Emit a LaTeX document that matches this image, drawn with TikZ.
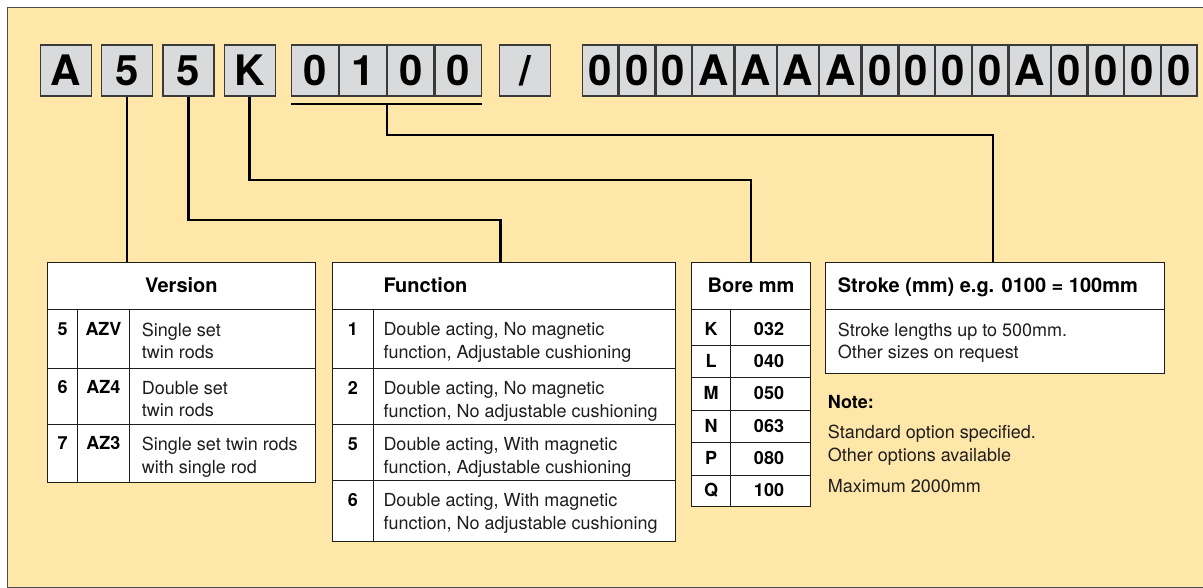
\documentclass[tikz,border=0pt]{standalone}
\usepackage{fontspec}
\setmainfont{TeX Gyre Heros}
\usetikzlibrary{positioning}
\definecolor{sandbg}{HTML}{FFE6A9}
\definecolor{cellgray}{HTML}{D9DADC}
\definecolor{cellline}{HTML}{3A3A3A}
\definecolor{inkx}{HTML}{1E1E1E}
\tikzset{
  cell/.style={draw=cellline,line width=1.2pt,fill=cellgray,inner sep=0pt,minimum height=51pt,text height=30pt,text depth=0pt,font=\fontsize{42}{42}\selectfont\bfseries},
  tab/.style={draw=inkx,line width=1pt,fill=white,inner sep=0pt},
  rule/.style={draw=inkx,line width=1pt},
  link/.style={draw=black,line width=2.3pt},
  hd/.style={inner sep=0pt,anchor=base,font=\fontsize{20}{24}\selectfont\bfseries},
  key/.style={inner sep=0pt,anchor=base,font=\fontsize{18}{22.7}\selectfont\bfseries},
  txt/.style={inner sep=0pt,align=left,anchor=north west,font=\fontsize{18}{22.7}\selectfont,text=inkx}
}
\begin{document}
\begin{tikzpicture}[x=1pt,y=-1pt]
\useasboundingbox (0,0) rectangle (1203,588);
\clip (0,0) rectangle (1203,588);
\fill[white] (0,0) rectangle (1203,588);
\draw[fill=sandbg,draw=gray!60!black,line width=1pt] (7,8) rectangle (1215,587.5);

% order code
\node[cell,minimum width=51pt] (cA) at (66,70.5) {A};
\node[cell,minimum width=51pt,right=9pt of cA] (c5a) {5};
\node[cell,minimum width=51pt,right=9pt of c5a] (c5b) {5};
\node[cell,minimum width=51pt,right=9pt of c5b] (cK) {K};
\node[inner sep=0pt,minimum size=0pt] (s0) at (291,70.5) {};
\foreach \ch [count=\i, remember=\i as \j (initially 0)] in {0,1,0,0}
  \node[cell,minimum width=46.6pt,anchor=west] (s\i) at (s\j.east) {\ch};
\node[cell,minimum width=51.4pt] (cSl) at (525,70.5) {/};
\node[inner sep=0pt,minimum size=0pt] (l0) at (581.7,70.5) {};
\foreach \ch/\w [count=\i, remember=\i as \j (initially 0)] in
  {0/35.5,0/35.5,0/35.5,A/41.2,A/41.2,A/41.2,A/41.2,0/35.5,0/35.5,0/35.5,0/35.5,A/41.2,0/35.5,0/35.5,0/35.5,0/35.5}
  \node[cell,minimum width=\w pt,anchor=west] (l\i) at (l\j.east) {\ch};
\draw[link] ([yshift=-7.3pt]s1.south west) -- ([yshift=-7.3pt]s4.south east);
\coordinate (ul) at ([yshift=-7.3pt]s2.south east);

% tables
\node[tab,minimum width=267.8pt,minimum height=220pt] (version) at (181.4,372.7) {};
\node[tab,minimum width=342.3pt,minimum height=278.3pt] (function) at (503.85,401.85) {};
\node[tab,minimum width=118.6pt,minimum height=244pt] (bore) at (751,384.7) {};
\node[tab,minimum width=339pt,minimum height=110.6pt] (stroke) at (995.2,318) {};

% connectors
\coordinate (fb) at (500.5,220);
\coordinate (kb) at (751,180);
\coordinate (sb) at (992.7,135);
\draw[link] (c5a.south) -- (c5a.south |- version.north);
\draw[link] (c5b.south) |- (fb) -- (fb |- function.north);
\draw[link] (cK.south) |- (kb) -- (bore.north);
\draw[link] (ul) |- (sb) -- (sb |- stroke.north);

% version
\draw[rule] (47.5,310) -- (315.3,310) (47.5,368.3) -- (315.3,368.3) (47.5,424.3) -- (315.3,424.3)
  (77.7,310) -- (77.7,482.7) (129.3,310) -- (129.3,482.7);
\node[hd] (vhd) at (181.4,292.2) {Version};
\foreach \yy/\nn/\cc/\dd [count=\i] in {310/5/AZV/{Single set\\twin rods},
    368.3/6/AZ4/{Double set\\twin rods}, 424.3/7/AZ3/{Single set twin rods\\with single rod}} {
  \node[key] (vn\i) at (62.6,\yy+25.5) {\nn};
  \node[key] (vc\i) at (103.5,\yy+25.5) {\cc};
  \node[txt] (vd\i) at (141.7,\yy+12.4) {\dd};
}

% function
\draw[rule] (332.7,310) -- (675,310) (332.7,368.7) -- (675,368.7) (332.7,424.7) -- (675,424.7)
  (332.7,480.7) -- (675,480.7) (373.3,310) -- (373.3,541);
\node[hd,anchor=base west] (fhd) at (383.3,292.2) {Function};
\foreach \yy/\nn/\dd [count=\i] in {310/1/{Double acting, No magnetic\\function, Adjustable cushioning},
    368.7/2/{Double acting, No magnetic\\function, No adjustable cushioning},
    424.7/5/{Double acting, With magnetic\\function, Adjustable cushioning},
    480.7/6/{Double acting, With magnetic\\function, No adjustable cushioning}} {
  \node[key] (fn\i) at (353,\yy+25.5) {\nn};
  \node[txt] (fd\i) at (383.3,\yy+12.4) {\dd};
}

% bore
\draw[rule] (691.7,310) -- (810.3,310) (691.7,345.7) -- (810.3,345.7) (691.7,377.7) -- (810.3,377.7)
  (691.7,410) -- (810.3,410) (691.7,442.7) -- (810.3,442.7) (691.7,475) -- (810.3,475)
  (730.3,310) -- (730.3,506.7);
\node[hd] (bhd) at (751,292.2) {Bore mm};
\foreach \yy/\ll/\vv [count=\i] in {335.5/K/032, 367.5/L/040, 399.8/M/050, 432.2/N/063, 464.8/P/080, 496.5/Q/100} {
  \node[key] (bl\i) at (711,\yy) {\ll};
  \node[key] (bv\i) at (769,\yy) {\vv};
}

% stroke
\draw[rule] (825.7,310) -- (1164.7,310);
\node[hd,anchor=base west] (shd) at (837.7,292.2) {Stroke (mm) e.g. 0100 = 100mm};
\node[txt] (sd) at (837.7,322.4) {Stroke lengths up to 500mm.\\Other sizes on request};

% note
\node[key,anchor=base west] (nhd) at (827.7,408.2) {Note:};
\node[txt] (nd1) at (827.7,425.1) {Standard option specified.\\Other options available};
\node[txt] (nd2) at (827.7,479.1) {Maximum 2000mm};
\end{tikzpicture}
\end{document}
